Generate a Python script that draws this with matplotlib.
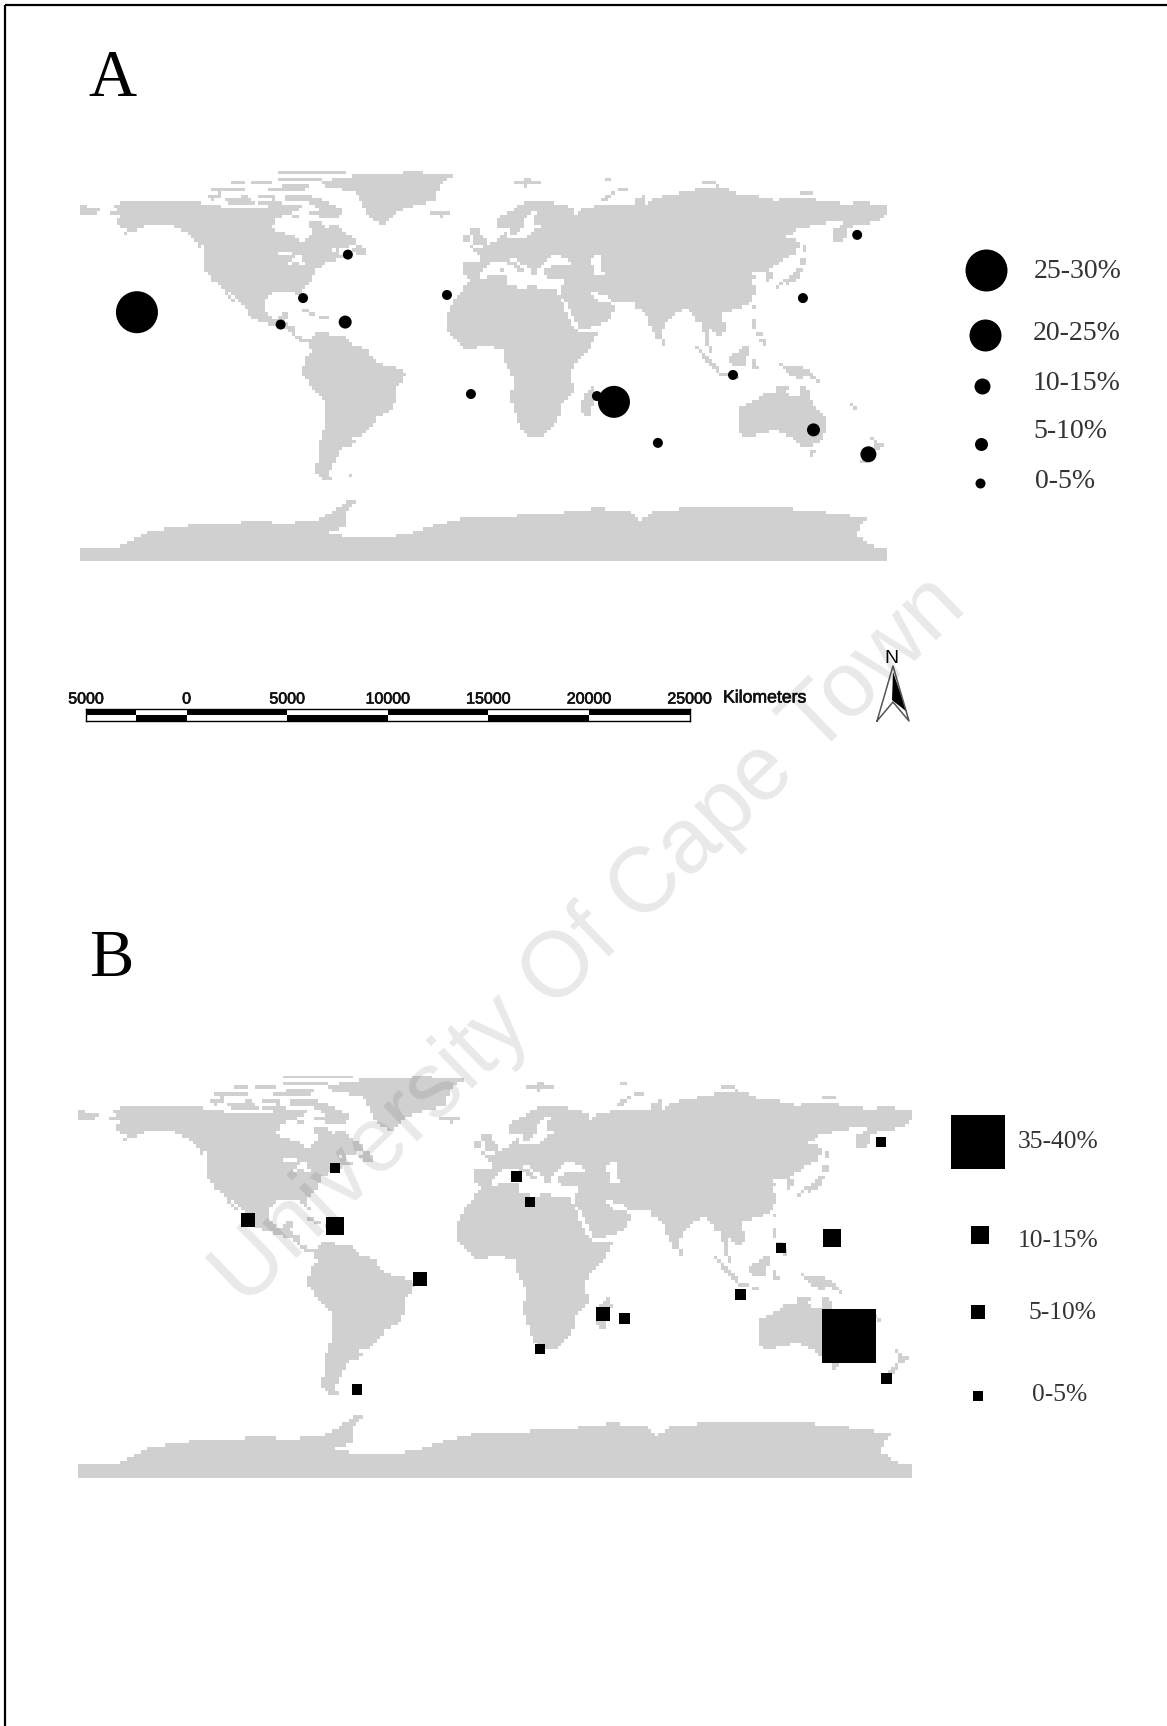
import numpy as np
import matplotlib
matplotlib.use("Agg")
import matplotlib.pyplot as plt
import matplotlib.patheffects as pe
from matplotlib.colors import ListedColormap
from matplotlib.path import Path

W, H = 1167, 1726
LAND = "#d0d0d0"
CELL = 1.5  # degrees, the source map is a coarse raster

# ---- survey sites, lon / lat
a_lon = [-154.6, -60.5, -80.5, -90.5, -61.7, -16.3, -5.6, 50.6, 58.2, 77.8, 111.3, 142.5, 166.7, 147.2, 171.7]
a_lat = [21.0, 46.7, 27.3, 15.5, 16.6, 28.7, -15.5, -16.4, -19.0, -37.3, -7.0, 27.3, 55.5, -31.5, -42.4]
a_class = ["25-30%", "0-5%", "0-5%", "0-5%", "5-10%", "0-5%", "0-5%", "0-5%", "20-25%", "0-5%", "0-5%", "0-5%",
           "0-5%", "5-10%", "10-15%"]

b_lon = [-69.1, 9.3, 15.1, -106.6, -69.1, -32.4, 145.5, 123.5, 106.0, 46.6, 55.9, 19.4, -59.6, 152.8, 169.0, 166.6]
b_lat = [44.2, 40.6, 29.5, 21.7, 18.9, -3.9, 13.9, 9.5, -10.6, -19.0, -21.0, -34.2, -51.7, -28.6, -47.0, 55.4]
b_class = ["0-5%", "0-5%", "0-5%", "5-10%", "10-15%", "5-10%", "10-15%", "0-5%", "0-5%", "5-10%", "0-5%", "0-5%",
           "0-5%", "35-40%", "0-5%", "0-5%"]

# marker width in pixels for each class
a_sizes = {"25-30%": 42, "20-25%": 32, "10-15%": 16, "5-10%": 13, "0-5%": 10}
b_sizes = {"35-40%": 54, "10-15%": 18, "5-10%": 14, "0-5%": 10.5}

scale_edges = [-5000, -2500, 0, 5000, 10000, 15000, 20000, 25000]
scale_ticks = [-5000, 0, 5000, 10000, 15000, 20000, 25000]

# ---- rough coastlines (lon, lat)
north_america = [(-168, 66), (-162, 67), (-166, 68.5), (-157, 71), (-141, 70), (-128, 70), (-115, 68), (-108, 68),
                 (-96, 68), (-94, 71.5), (-88, 68.5), (-82, 69.5), (-81, 67), (-87, 65), (-93, 62), (-94.5, 59),
                 (-92.5, 57), (-85, 55.3), (-82, 53), (-79.5, 51.5), (-79, 54), (-76.5, 57), (-78, 59), (-78, 62),
                 (-72, 61.5), (-70, 59), (-65, 60), (-61, 56), (-56, 52.5), (-60, 50), (-66, 50), (-70, 47),
                 (-65, 49), (-64.5, 47), (-61, 46), (-66, 44), (-70, 43.5), (-71, 41.5), (-74, 40.5), (-76, 37),
                 (-76, 35), (-81, 31.5), (-80, 26), (-81, 25), (-82.7, 28), (-84, 30), (-89, 30), (-94, 29.5),
                 (-97.3, 27), (-97.8, 22), (-95, 18.5), (-91, 18.5), (-90.5, 21), (-87, 21.5), (-88, 16),
                 (-83.5, 15), (-83.5, 11), (-80, 9), (-77.5, 8.5), (-79, 7.5), (-81, 7.5), (-85, 10), (-87.5, 13),
                 (-92, 14.5), (-96, 16), (-101, 17.5), (-105.5, 20), (-105.5, 23), (-109, 26), (-112.5, 30),
                 (-114.5, 31.5), (-112, 27), (-109.5, 23), (-112, 25), (-115, 29), (-117, 32.5), (-120.5, 34.5),
                 (-124, 40), (-124.5, 47), (-123, 49), (-128, 52), (-131, 56), (-136, 58.5), (-141, 60), (-148, 60.5),
                 (-152, 59), (-157, 57), (-163, 54.8), (-158, 58.5), (-162, 59), (-165, 61.5), (-161, 64), (-166, 64.5)]
south_america = [(-77.5, 8.5), (-75, 11), (-72, 12.3), (-68, 11), (-62, 10.5), (-57, 6), (-51, 4.5), (-50, 0),
                 (-44, -2.5), (-37, -4.5), (-35, -7), (-39, -14), (-39.5, -19), (-42, -23), (-48, -26), (-49, -29),
                 (-53.5, -34), (-58, -34.5), (-57, -38), (-62, -39), (-65, -42), (-66, -46), (-69, -51), (-68, -53),
                 (-65, -55), (-71, -54), (-75, -50), (-73, -42), (-73, -37), (-71, -30), (-70, -20), (-76, -14),
                 (-81, -6), (-80, -2), (-80, 1), (-77, 4), (-78, 7)]
africa = [(-6, 35.8), (3, 37), (10, 37.3), (11, 33.5), (20, 31), (20, 33), (25, 32), (32, 31.3), (34, 28), (37, 21),
          (39, 15.5), (43, 11.5), (51, 12), (47, 4), (40, -3), (39, -7), (40.5, -14), (35, -20), (35, -24),
          (32.5, -28), (27, -34), (20, -34.8), (18, -33), (15, -27), (12, -17), (13.5, -11), (12, -5), (9, -1),
          (9.5, 4), (5, 5), (4, 6.5), (-4, 5), (-8, 4.5), (-13, 8.5), (-17, 14.5), (-16, 20), (-13, 27.5), (-10, 30),
          (-9, 33)]
eurasia = [(-9, 37), (-9.5, 43), (-2, 43.5), (-1, 46), (-4.5, 48.5), (2, 51), (8, 54), (8.5, 57), (10.5, 57.5),
           (10, 54), (14, 54), (20, 54.5), (21, 57), (24, 59), (30, 60), (23, 60), (21.5, 63), (25, 65.5), (22, 65.8),
           (17.5, 62), (18.5, 60), (16.5, 56.5), (13, 55.5), (11, 59), (6, 58), (5, 62), (12, 66), (18, 70), (25, 71),
           (31, 70), (41, 67), (40, 65), (35, 64.5), (38, 64), (44, 66), (44, 68), (54, 68.5), (60, 69), (68, 68.5),
           (67, 72), (72, 73), (73, 68), (75, 72), (80, 73), (90, 75), (105, 77.5), (113, 74), (128, 72), (130, 71),
           (140, 72.5), (160, 69.5), (170, 70), (180, 69), (180, 65), (177, 62.5), (170, 60), (163, 59), (162, 55),
           (157, 51), (155.5, 57), (163, 62), (156, 61.5), (150, 59.5), (142, 59), (135, 54.5), (141, 53), (140, 48),
           (132, 43), (128, 40), (129.5, 36), (126.5, 34.5), (125, 39.5), (121.5, 39), (118, 39), (122.5, 37),
           (119, 35), (122, 31), (120, 26), (114, 22), (108, 21.5), (106, 19), (109, 13), (105, 9), (100.5, 13.5),
           (100, 8), (103.5, 2), (101, 3), (98.5, 8), (98, 16), (94, 16), (94, 19), (91, 22.5), (87, 21),
           (80.5, 15.5), (80, 11), (77.5, 8), (73, 18), (72.5, 21), (69, 22), (67, 25), (57, 25.5), (56.5, 27),
           (50, 30), (48, 29.5), (51.5, 25), (56, 26), (59.5, 22.5), (55, 17), (45, 13), (43, 13), (39, 21), (35, 28),
           (34.5, 31), (36, 36.5), (30, 36.3), (27, 37), (26.5, 40), (29, 41), (35, 42), (41, 41.5), (37, 45),
           (33, 46), (30.5, 46), (28, 43), (24, 40.5), (23, 36.5), (19.5, 41), (13.5, 45.5), (12.5, 44), (18.5, 40),
           (16, 38), (12, 42), (8.5, 44), (3.5, 43), (0, 39.5), (-2, 36.7), (-5.5, 36)]
australia = [(114, -22), (122, -18), (125, -14.5), (129.5, -15), (131, -12), (136.5, -12), (135.5, -15), (140, -17.5),
             (142, -11), (145.5, -15), (146.5, -19), (150, -22.5), (153.5, -26), (153, -31), (150, -37), (146, -39),
             (140, -38), (138, -35), (135.5, -34.5), (131, -31.5), (124, -33), (118, -35), (115, -34), (113.5, -26)]
antarctica = [(-180, -84.5), (-165, -84.5), (-155, -80), (-148, -76.5), (-130, -74), (-103, -72.5), (-85, -73),
              (-72, -71), (-60, -63), (-57, -63.5), (-62, -68), (-62, -75), (-70, -77), (-60, -79.5), (-40, -79),
              (-30, -77), (-20, -73.5), (-10, -71), (10, -70), (30, -69), (50, -66.5), (65, -67.5), (70, -72),
              (75, -68), (90, -66.5), (110, -66), (135, -66.5), (160, -69), (171, -71), (166, -78), (175, -84),
              (180, -84.5), (180, -90), (-180, -90)]
greenland = [(-73, 78.3), (-68, 76), (-58, 75.5), (-54, 70), (-52, 65), (-48, 61), (-44, 60), (-40, 65), (-32, 68),
             (-22, 70.5), (-20, 75), (-18, 80), (-12, 81.5), (-30, 83.6), (-50, 82.5), (-62, 81.5), (-68, 80)]
islands = [
    [(-80, 73.5), (-72, 71.5), (-68, 69), (-62, 66.5), (-65, 62.5), (-72, 63.5), (-78, 65), (-73, 67), (-78, 70),
     (-88, 71), (-88, 73.5)],
    [(-117, 72), (-105, 73), (-101, 69.5), (-113, 68.5)],
    [(-125, 72), (-118, 74.5), (-116, 73), (-121, 71)],
    # Ellesmere and neighbours come out as broken strips in the source raster
    [(-92, 82), (-62, 82), (-62, 83.4), (-92, 83.4)],
    [(-92, 79.4), (-72, 79.4), (-72, 80.8), (-92, 80.8)],
    [(-90, 76.6), (-78, 76.6), (-78, 78.1), (-90, 78.1)],
    [(-96, 74.4), (-80, 74.4), (-80, 75.8), (-96, 75.8)],
    [(-122, 75.5), (-106, 75.5), (-106, 77), (-122, 77)],
    [(-104, 77.5), (-94, 77.5), (-94, 79.2), (-104, 79.2)],
    [(-112, 78), (-106, 78), (-106, 79.2), (-112, 79.2)],
    [(-100, 72), (-93, 72), (-93, 73.4), (-100, 73.4)],
    [(-100, 69), (-95, 69), (-95, 70.4), (-100, 70.4)],
    [(-87, 65.5), (-81, 64), (-85, 62.8)],
    [(-59, 47.7), (-53, 46.7), (-53, 49), (-56, 51.5), (-57.5, 50)],
    [(-128, 50.5), (-123.5, 48.5), (-125, 50)],
    [(-24, 65.5), (-22, 64), (-18, 63.5), (-14, 65), (-16, 66.5), (-22, 66.5)],
    [(-85, 22), (-80, 23.2), (-74.5, 20.2), (-78, 20), (-82, 22)],
    [(-74.5, 19.8), (-69, 19.7), (-68.5, 18.3), (-74, 18)],
    [(-180, 69), (-172, 67), (-170, 66), (-175, 64.5), (-180, 65)],
    [(49.5, -12), (50.5, -16), (47.5, -25), (45, -25.5), (43.5, -22), (44.5, -16.5)],
    [(52, 71), (56, 71), (58, 74), (68, 77), (60, 76), (54, 73)],
    [(12, 79), (20, 80.5), (26, 79), (18, 77)],
    [(95, 80), (105, 79), (98, 78)],
    [(137, 75), (150, 75.5), (145, 73.5)],
    [(50, 81), (62, 81), (55, 80)],
    [(-5.5, 50), (1.5, 51.5), (1, 53), (-2, 56), (-2, 58), (-5, 58.5), (-6, 56), (-3, 54), (-5, 52)],
    [(-10, 52), (-6, 52), (-5.8, 55), (-8.5, 55)],
    [(8, 39), (9.7, 39), (9.6, 43), (8.6, 42.5)],
    [(12.5, 38), (15.6, 38.2), (15, 36.7)],
    [(80, 9.7), (82, 7.5), (80.5, 6), (79.7, 8)],
    [(95, 5.5), (98, 4), (104, -2), (106, -6), (102, -4.5), (98, 1)],
    [(105, -6), (114.5, -7.5), (114.5, -8.7), (106, -7.5)],
    [(109, 1), (113, 3), (117, 7), (119, 5), (117.5, 1), (116, -4), (111, -3), (109, -0.5)],
    [(119.5, 0), (125, 1.5), (121, 0), (123, -4.5), (120, -5.5)],
    [(131, -1), (135, -3), (141, -2.5), (147, -6), (150.5, -10.5), (144, -7.5), (142, -9), (138, -8), (133, -4)],
    [(120, 18.5), (122.3, 18.5), (122, 14), (124, 12.8), (120.5, 14)],
    [(122, 7), (125.5, 9.7), (126.5, 7), (125, 5.8), (123, 7.5)],
    [(122, 11.5), (125, 12), (125, 10.5), (122.5, 10)],
    [(120, 23), (121, 25), (122, 25), (120.8, 22)],
    [(131, 34), (136, 36), (140, 40.5), (141.5, 41), (142, 39), (140.7, 35.5), (136, 33.7), (133, 34)],
    [(130, 33.5), (134, 34), (134, 33.3), (131, 31)],
    [(140, 42), (141.5, 45.5), (145.5, 43.5), (143, 42)],
    [(142, 46), (143.5, 49), (143, 54), (142, 53.5), (142, 48)],
    [(144.7, -41), (148.3, -41), (147.5, -43.5), (146, -43.5)],
    [(172.7, -34.5), (175.5, -37), (178.5, -37.7), (175.5, -41.5), (174, -39.5)],
    [(172.7, -40.5), (174.3, -41.7), (170.5, -46), (167, -46), (171, -42)],
    [(164, -20), (167, -22), (165.5, -22)],
    [(-61, -51.5), (-58, -51.5), (-59, -52.3)],
]
lakes = [
    [(-92, 46.8), (-88, 48.5), (-85, 47.5), (-84.7, 46.5), (-87, 46.5)],
    [(-87.5, 42), (-85.5, 45.5), (-82, 46), (-80, 44.5), (-82.5, 43), (-84, 45), (-86, 42)],
    [(-83, 41.5), (-79, 42.7), (-76, 43.5), (-79, 44), (-83, 42.5)],
    [(47, 45), (53, 46.5), (53, 40), (54, 37), (50, 37.5), (49, 41)],
]


def land_mask():
    lon = np.arange(-180 + CELL / 2, 180, CELL)
    lat = np.arange(84 - CELL / 2, -90, -CELL)
    gx, gy = np.meshgrid(lon, lat)
    pts = np.column_stack([gx.ravel(), gy.ravel()])
    mask = np.zeros(len(pts), dtype=bool)
    for poly in [north_america, south_america, africa, eurasia, australia, antarctica, greenland] + islands:
        mask |= Path(poly).contains_points(pts)
    for poly in lakes:
        mask &= ~Path(poly).contains_points(pts)
    return mask.reshape(gx.shape)


def px_axes(fig, left, top, right, bottom):
    return fig.add_axes([left / W, 1 - bottom / H, (right - left) / W, (bottom - top) / H])


def px_to_s(d):
    # scatter wants points squared, figure runs at dpi 100
    return (d * 0.72) ** 2


def draw_map(fig, box, lon, lat, classes, sizes, marker, mask):
    ax = px_axes(fig, *box)
    ax.imshow(mask, extent=(-180, 180, -90, 84), aspect="auto", interpolation="nearest",
              cmap=ListedColormap(["white", LAND]), vmin=0, vmax=1)
    ax.scatter(lon, lat, s=[px_to_s(sizes[c]) for c in classes], c="black", marker=marker, linewidths=0, zorder=3)
    ax.set_xlim(-180, 180)
    ax.set_ylim(-90, 84)
    ax.axis("off")
    return ax


def draw_legend(page, sizes, marker, xs, ys, label_xs, label_ys, fontsize):
    for key, x, y, lx, ly in zip(sizes, xs, ys, label_xs, label_ys):
        page.scatter([x], [y], s=px_to_s(sizes[key]), c="black", marker=marker, linewidths=0)
        page.text(lx, ly, key, ha="left", va="center", fontsize=fontsize, family="Liberation Serif", color="#333333")


def draw_scale(fig):
    ax = px_axes(fig, 86, 709, 689.5, 721.5)
    lefts = np.array(scale_edges[:-1])
    widths = np.diff(scale_edges)
    top_cols = ["black" if i % 2 == 0 else "white" for i in range(len(lefts))]
    low_cols = ["white" if i % 2 == 0 else "black" for i in range(len(lefts))]
    ax.bar(lefts, 1, widths, bottom=1, align="edge", color=top_cols, linewidth=0)
    ax.bar(lefts, 1, widths, bottom=0, align="edge", color=low_cols, linewidth=0)
    ax.set_xlim(scale_edges[0], scale_edges[-1])
    ax.set_ylim(0, 2)
    ax.set_yticks([])
    ax.xaxis.tick_top()
    ax.set_xticks(scale_ticks)
    labels = ax.set_xticklabels([str(abs(t)) for t in scale_ticks], fontsize=11.5, family="Liberation Sans",
                                color="#111111")
    for lab in labels:
        lab.set_path_effects([pe.withStroke(linewidth=0.5, foreground="#111111")])
    ax.tick_params(axis="x", length=0, pad=1.8)
    for sp in ax.spines.values():
        sp.set_linewidth(1.0)


fig = plt.figure(figsize=(W / 100, H / 100), dpi=100, facecolor="white")
mask = land_mask()

draw_map(fig, (80, 171, 887, 561), a_lon, a_lat, a_class, a_sizes, "o", mask)
draw_map(fig, (78, 1076, 912, 1478), b_lon, b_lat, b_class, b_sizes, "s", mask)
draw_scale(fig)

# page layer in pixel units: frame, panel letters, legends, north arrow
page = fig.add_axes([0, 0, 1, 1], zorder=5)
page.set_xlim(0, W)
page.set_ylim(H, 0)
page.axis("off")
page.patch.set_alpha(0)

page.plot([5, 5], [H, 5], color="black", lw=1.6, solid_capstyle="butt")
page.plot([5, W], [5, 5], color="black", lw=1.6, solid_capstyle="butt")

page.text(112, 79, "A", ha="center", va="center", fontsize=48, family="Liberation Serif")
page.text(111, 959, "B", ha="center", va="center", fontsize=48, family="Liberation Serif")

draw_legend(page, a_sizes, "o", [986, 985, 982, 981, 979.5], [270, 335, 386, 444, 483],
            [1034, 1033, 1033, 1033, 1035], [271, 334, 383.5, 431.5, 481], 20)
draw_legend(page, b_sizes, "s", [978, 979.5, 978, 978], [1142, 1235, 1312, 1395.6],
            [1018, 1017.5, 1029, 1032], [1142, 1241, 1313, 1394.5], 18.4)

kilo = page.text(723, 698, "Kilometers", ha="left", va="center", fontsize=12.7, family="Liberation Sans",
                 color="#111111")
kilo.set_path_effects([pe.withStroke(linewidth=0.5, foreground="#111111")])

# north arrow
page.fill([893, 907, 892], [672, 712, 700], color="black", lw=0)
page.plot([877, 893, 909, 893, 877], [721, 666, 721, 702, 721], color="#555555", lw=1.1)
page.text(891, 658, "N", ha="center", va="center", fontsize=14, family="Liberation Sans")

# watermark is stamped over everything, so it darkens the land too
page.text(590, 941, "University Of Cape Town", rotation=44, rotation_mode="anchor", ha="center", va="center",
          fontsize=66, family="Liberation Sans", color="black", alpha=0.09, zorder=10)

fig.savefig("out.png", dpi=100, facecolor="white")
